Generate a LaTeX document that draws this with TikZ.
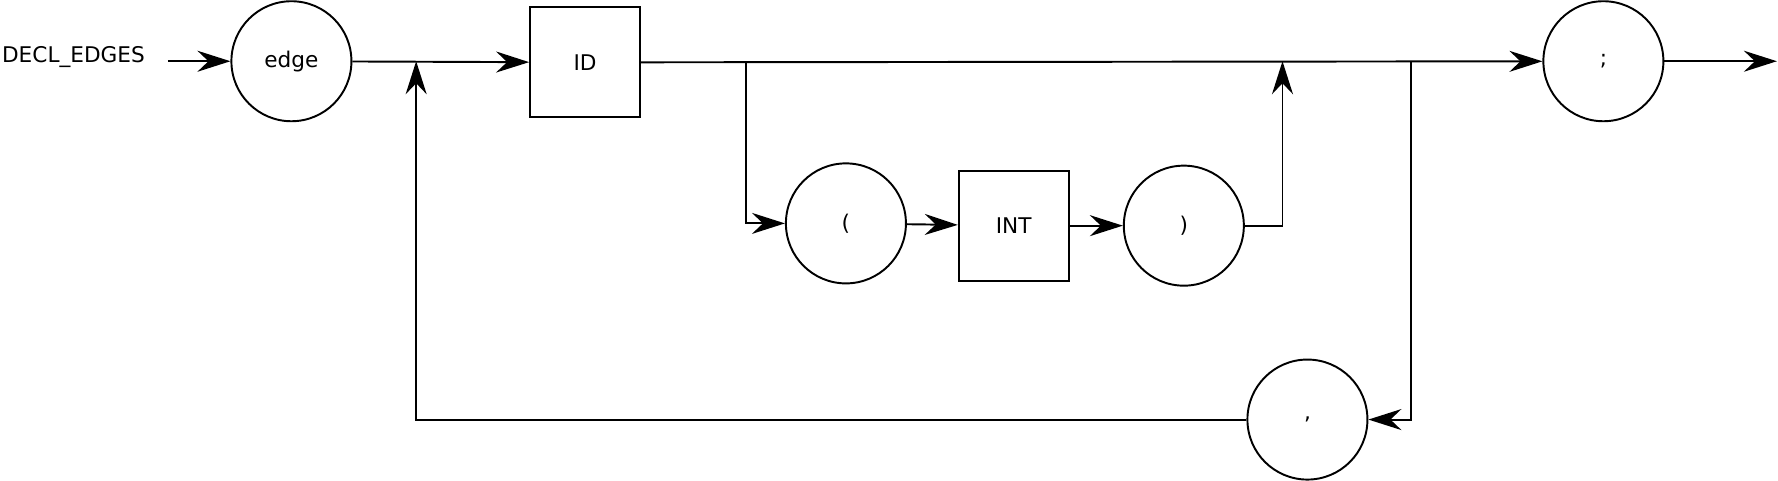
\documentclass[tikz,border=0pt]{standalone}
\usepackage{fontspec}
\setmainfont{DejaVu Sans}
\usepackage{tikz}
\usetikzlibrary{arrows.meta, positioning}

\begin{document}
\begin{tikzpicture}[x=0.02268cm, y=-0.02268cm, line width=1.1pt,
    font=\fontsize{12.3}{15}\selectfont,
    term/.style={circle, draw=black, text=black, minimum size=2.4cm, inner sep=0pt},
    nonterm/.style={rectangle, draw=black, text=black, minimum size=2.2cm, inner sep=0pt},
    >={Stealth[length=6.6mm, width=4.2mm, inset=2.2mm]}]
  \useasboundingbox (0, 0) rectangle (1568, 424);

  \node[anchor=west, inner sep=0pt] (lbl) at (1, 50) {DECL\_EDGES};
  \node[term]         (edge)  at (257, 54)   {edge};
  \node[nonterm]      (id)    at (516, 55)   {ID};
  \node[term]         (lp)    at (746, 197)  {(};
  \node[nonterm]      (int)   at (894, 199)  {INT};
  \node[term]         (rp)    at (1044, 199) {)};
  \node[term]         (semi)  at (1414, 54)  {;};
  \node[term]         (comma) at (1153, 370) {,};

  \coordinate (start)    at (148, 54);
  \coordinate (exit)     at (1567, 54);
  \coordinate (loopup)   at (367, 54);
  \coordinate (optsplit) at (658, 55);
  \coordinate (optjoin)  at (1131, 54);
  \coordinate (sepsplit) at (1244, 54);

  \draw[->] (start) -- (edge);
  \draw[->] (edge) -- (id);
  \draw[->] (id) -- (semi);
  \draw[->] (semi) -- (exit);

  \draw[->] (optsplit) |- (lp);
  \draw[->] (lp) -- (int);
  \draw[->] (int) -- (rp);
  \draw[->] (rp) -| (optjoin);

  \draw[->] (sepsplit) |- (comma);
  \draw[->] (comma) -| (loopup);
\end{tikzpicture}
\end{document}
